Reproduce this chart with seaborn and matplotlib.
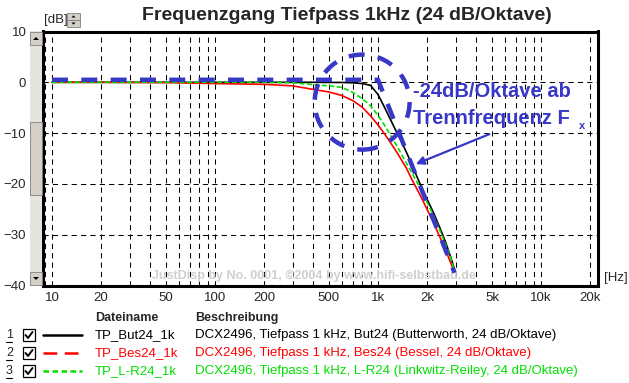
import matplotlib
matplotlib.use('Agg')
import numpy as np
import pandas as pd
import matplotlib.pyplot as plt
import matplotlib.ticker as mticker
from matplotlib.patches import Rectangle, Ellipse, Polygon
from matplotlib.lines import Line2D
import seaborn as sns

sns.set_style("white")
plt.rcParams['font.family'] = ['Liberation Sans', 'DejaVu Sans']

# ---------------- data ----------------
freq_hz = [10, 20, 50, 100, 200, 300, 400, 500, 600, 700, 800, 900, 1000,
           1100, 1200, 1300, 1400, 1500, 1600, 1800, 2000, 2200, 2400, 2600, 2800]
but24_db = [0, 0, 0, 0, 0, 0, 0, -0.02, -0.03, -0.1, -0.25, -0.6, -2.4,
            -5.0, -7.5, -9.8, -11.8, -13.9, -15.9, -19.8, -23.0, -25.8, -28.7, -31.5, -34.5]
bes24_db = [0, 0, -0.05, -0.25, -0.4, -0.7, -1.4, -1.9, -2.6, -3.6, -4.9, -6.6, -8.4,
            -10.2, -12.0, -13.7, -15.4, -17.0, -18.9, -22.0, -25.0, -27.8, -30.5, -33.1, -35.6]
lr24_db = [0, 0, 0, 0, 0, -0.1, -0.45, -0.7, -1.0, -2.0, -3.2, -4.6, -6.5,
           -8.5, -10.6, -12.4, -14.3, -16.0, -17.6, -20.6, -23.6, -26.4, -29.2, -31.9, -34.6]
end_hz = [2950, 2880, 2930]
end_db = [-36.9, -36.6, -36.9]

asym_hz = [10, 1000, 2950]
asym_db = [0.5, 0.5, -37.5]

x_ticks = [10, 20, 50, 100, 200, 500, 1000, 2000, 5000, 10000, 20000]
x_labels = ['10', '20', '50', '100', '200', '500', '1k', '2k', '5k', '10k', '20k']
y_ticks = [10, 0, -10, -20, -30, -40]

names = ['TP_But24_1k', 'TP_Bes24_1k', 'TP_L-R24_1k']
descs = ['DCX2496, Tiefpass 1 kHz, But24 (Butterworth, 24 dB/Oktave)',
         'DCX2496, Tiefpass 1 kHz, Bes24 (Bessel, 24 dB/Oktave)',
         'DCX2496, Tiefpass 1 kHz, L-R24 (Linkwitz-Reiley, 24 dB/Oktave)']

BLACK, RED, GREEN, BLUE = '#000000', '#ff0000', '#00e000', '#3737c8'
colors = [BLACK, RED, GREEN]

W, H = 629, 383


def fx(x):
    return x / W


def fy(y):
    return 1 - y / H


fig = plt.figure(figsize=(6.29, 3.83), dpi=100)
ax = fig.add_axes([fx(43), fy(285.5), 555 / W, 254 / H])

curves = pd.DataFrame({
    'freq': freq_hz * 3,
    'db': but24_db + bes24_db + lr24_db,
    'kurve': [names[0]] * len(freq_hz) + [names[1]] * len(freq_hz) + [names[2]] * len(freq_hz),
})
for i, name in enumerate(names):
    sub = curves[curves['kurve'] == name]
    xs = list(sub['freq']) + [end_hz[i]]
    ys = list(sub['db']) + [end_db[i]]
    ls = (0, (3, 1.5)) if i == 2 else '-'
    sns.lineplot(x=xs, y=ys, ax=ax, color=colors[i], lw=1.2, linestyle=ls,
                 estimator=None, sort=False, zorder=3 + i)

# -24 dB/Oktave Asymptote
sns.lineplot(x=asym_hz, y=asym_db, ax=ax, color=BLUE, lw=3.2,
             linestyle=(0, (3.6, 3.0)), estimator=None, sort=False, zorder=6)

ax.set_xscale('log')
ax.set_xlim(8.81, 22370)
ax.set_ylim(-40, 10)
ax.set_xticks(x_ticks)
ax.set_xticklabels(x_labels)
ax.xaxis.set_minor_locator(mticker.LogLocator(base=10, subs=np.arange(2, 10)))
ax.xaxis.set_minor_formatter(mticker.NullFormatter())
ax.set_yticks(y_ticks)
ax.tick_params(axis='both', which='both', length=0, labelsize=9.5)
ax.tick_params(axis='x', pad=5)
ax.tick_params(axis='y', pad=12)
ax.grid(True, which='both', axis='x', color='black', lw=0.75, linestyle=(0, (5, 4)))
ax.grid(True, which='major', axis='y', color='black', lw=0.75, linestyle=(0, (5, 4)))
for s in ax.spines.values():
    s.set_visible(True)
    s.set_color('black')
    s.set_linewidth(2.2)
ax.set_xlabel('')
ax.set_ylabel('')

# Kreis um die Trennfrequenz
ax.add_patch(Ellipse((0.575, 0.722), 0.171, 0.374, transform=ax.transAxes, fill=False,
                     ec=BLUE, lw=3.2, linestyle=(0, (3.6, 3.0)), zorder=7))

ax.text(0.667, 0.762, '-24dB/Oktave ab', transform=ax.transAxes, color=BLUE,
        fontsize=14.5, fontweight='bold', va='center', ha='left', zorder=8)
ax.text(0.667, 0.659, 'Trennfrequenz F', transform=ax.transAxes, color=BLUE,
        fontsize=14.5, fontweight='bold', va='center', ha='left', zorder=8)
fig.text(fx(579), fy(126), 'x', color=BLUE, fontsize=8, fontweight='bold', va='center')
ax.annotate('', xy=(0.667, 0.474), xytext=(0.809, 0.600), xycoords='axes fraction',
            arrowprops=dict(arrowstyle='-|>', color=BLUE, lw=1.6, mutation_scale=12), zorder=8)

# Wasserzeichen
ax.text((152 - 43) / 555, (285.5 - 276) / 254,
        'JustDisp by No. 0001, ©2004 by www.hifi-selbstbau.de', transform=ax.transAxes,
        color='#cfcfcf', fontsize=9, fontweight='bold', va='center', ha='left', zorder=2)

# Titel und Einheiten
fig.text(fx(347), fy(15), 'Frequenzgang Tiefpass 1kHz (24 dB/Oktave)',
         fontsize=14, fontweight='bold', ha='center', va='center')
fig.text(fx(44), fy(20), '[dB]', fontsize=9.5, ha='left', va='center')
fig.text(fx(604), fy(278), '[Hz]', fontsize=9.5, ha='left', va='center')


def frect(x0, y0, x1, y1, **kw):
    fig.patches.append(Rectangle((fx(x0), fy(y1)), fx(x1 - x0), (y1 - y0) / H,
                                 transform=fig.transFigure, figure=fig, **kw))


def ftri(pts, **kw):
    fig.patches.append(Polygon([(fx(a), fy(b)) for a, b in pts], closed=True,
                               transform=fig.transFigure, figure=fig, **kw))


# Rollbalken links
frect(30, 31, 42, 286, fc='#e6e4df', ec='none')
for y0, y1, up in [(32, 45, True), (272, 285, False)]:
    frect(30, y0, 42, y1, fc='#d4d0c8', ec='#808080', lw=0.6)
    cx, cy = 36, (y0 + y1) / 2
    if up:
        ftri([(cx - 3, cy + 1.5), (cx + 3, cy + 1.5), (cx, cy - 1.5)], fc='black', ec='none')
    else:
        ftri([(cx - 3, cy - 1.5), (cx + 3, cy - 1.5), (cx, cy + 1.5)], fc='black', ec='none')
frect(30, 122, 42, 195, fc='#d4d0c8', ec='#808080', lw=0.6)

# Drehknopf neben [dB]
for y0, y1, up in [(13, 20, True), (20, 27, False)]:
    frect(67, y0, 80, y1, fc='#d4d0c8', ec='#808080', lw=0.6)
    cx, cy = 73.5, (y0 + y1) / 2
    if up:
        ftri([(cx - 2, cy + 1), (cx + 2, cy + 1), (cx, cy - 1.2)], fc='black', ec='none')
    else:
        ftri([(cx - 2, cy - 1), (cx + 2, cy - 1), (cx, cy + 1.2)], fc='black', ec='none')

# Legende unten
fig.text(fx(95), fy(318), 'Dateiname', fontsize=9, fontweight='bold', va='center')
fig.text(fx(195), fy(318), 'Beschreibung', fontsize=9, fontweight='bold', va='center')
row_y = [335, 353, 371]
sample_styles = ['-', (0, (5.5, 3)), (0, (2.2, 1.4))]
for i in range(3):
    y = row_y[i]
    fig.text(fx(6), fy(y), str(i + 1), fontsize=9, va='center', ha='left')
    fig.lines.append(Line2D([fx(6), fx(12)], [fy(y + 7), fy(y + 7)], color='black', lw=0.8,
                            transform=fig.transFigure, figure=fig))
    frect(23, y - 6, 35, y + 6, fc='white', ec='black', lw=0.9)
    fig.lines.append(Line2D([fx(25.5), fx(28), fx(32.5)], [fy(y), fy(y + 3), fy(y - 3)],
                            color='black', lw=1.4, transform=fig.transFigure, figure=fig))
    fig.lines.append(Line2D([fx(43), fx(82)], [fy(y), fy(y)], color=colors[i], lw=1.8,
                            linestyle=sample_styles[i], transform=fig.transFigure, figure=fig))
    fig.text(fx(95), fy(y), names[i], fontsize=9.5, color=colors[i], va='center')
    fig.text(fx(195), fy(y), descs[i], fontsize=9.5, color=colors[i], va='center')

plt.savefig('out.png', dpi=100)
plt.close()
